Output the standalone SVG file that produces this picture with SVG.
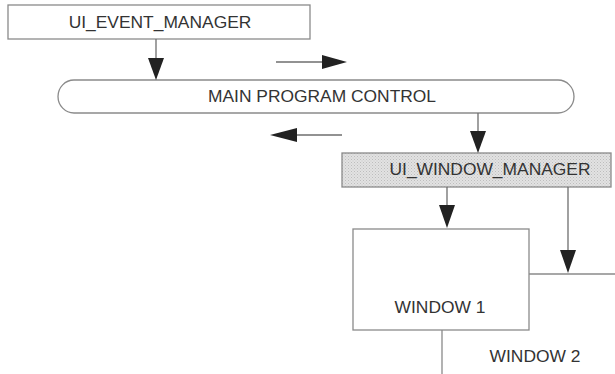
<svg xmlns="http://www.w3.org/2000/svg" width="615" height="374" viewBox="0 0 615 374">
  <style>
    .box { fill: #ffffff; stroke: #8a8a8a; stroke-width: 1.3; }
    .shaded { fill: #dadada; stroke: #8a8a8a; stroke-width: 1.3; }
    .edge { fill: none; stroke: #6e6e6e; stroke-width: 1.3; }
    .head { fill: #222222; }
    .label { font-family: "Liberation Sans", Arial, sans-serif; font-size: 17.4px; fill: #333333; text-anchor: middle; }
  </style>
  <defs>
    <pattern id="stipple" width="3" height="3" patternUnits="userSpaceOnUse">
      <rect width="3" height="3" fill="#e2e2e2"/>
      <rect x="0" y="0" width="1" height="1" fill="#bdbdbd"/>
      <rect x="1.5" y="1.5" width="1" height="1" fill="#c8c8c8"/>
    </pattern>
  </defs>
  <rect width="615" height="374" fill="#ffffff"/>

  <g id="ui-event-manager">
    <rect class="box" x="8" y="5" width="302" height="34"/>
    <text class="label" x="160" y="28">UI_EVENT_MANAGER</text>
  </g>

  <g id="main-program-control">
    <path class="box" d="M74 80 H558 A16 16.5 0 0 1 558 113 H74 A16 16.5 0 0 1 74 80 Z"/>
    <text class="label" x="322" y="102">MAIN PROGRAM CONTROL</text>
  </g>

  <g id="ui-window-manager">
    <rect class="shaded" x="342" y="153" width="269" height="34" fill="url(#stipple)" style="fill:url(#stipple)"/>
    <text class="label" x="490" y="175">UI_WINDOW_MANAGER</text>
  </g>

  <g id="window-2">
    <path class="edge" d="M529 274 H615 M442 330 V374" style="stroke:#8a8a8a"/>
    <text class="label" x="535" y="362">WINDOW 2</text>
  </g>

  <g id="window-1">
    <rect class="box" x="353" y="229" width="176" height="101"/>
    <text class="label" x="440" y="313">WINDOW 1</text>
  </g>

  <g id="connectors">
    <!-- UI_EVENT_MANAGER to MAIN PROGRAM CONTROL -->
    <line class="edge" x1="156" y1="39" x2="156" y2="60"/>
    <polygon class="head" points="148,58 164,58 156,80"/>
    <!-- flow to the right -->
    <line class="edge" x1="276" y1="62" x2="324" y2="62"/>
    <polygon class="head" points="322,55 347,62 322,69"/>
    <!-- flow to the left -->
    <line class="edge" x1="342" y1="135" x2="295" y2="135"/>
    <polygon class="head" points="297,128 270,135 297,142"/>
    <!-- MAIN PROGRAM CONTROL to UI_WINDOW_MANAGER -->
    <line class="edge" x1="478" y1="113" x2="478" y2="133"/>
    <polygon class="head" points="470,131 486,131 478,153"/>
    <!-- UI_WINDOW_MANAGER to WINDOW 1 -->
    <line class="edge" x1="447" y1="187" x2="447" y2="207"/>
    <polygon class="head" points="439,205 455,205 447,228"/>
    <!-- UI_WINDOW_MANAGER to WINDOW 2 -->
    <line class="edge" x1="568" y1="187" x2="568" y2="252"/>
    <polygon class="head" points="560,250 576,250 568,273"/>
  </g>
</svg>
